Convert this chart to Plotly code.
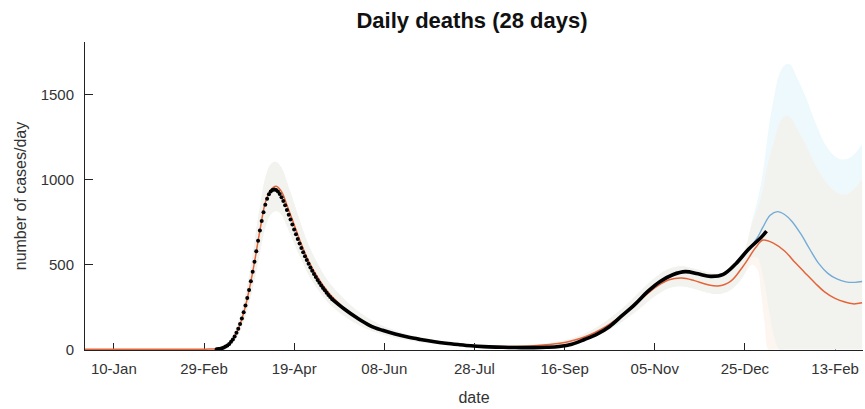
import numpy as np
import pandas as pd
import plotly.graph_objects as go

# ---------------- data ----------------
# observed daily deaths (dots), first wave, daily from 2020-03-07
black_daily_start = "2020-03-07"
black_daily = [1, 2, 4, 7, 11, 16, 23, 32, 44, 58, 76, 97, 122, 150, 182, 218, 258, 302, 350, 402,
               458, 517, 578, 640, 700,
               757, 808, 852, 888, 914, 931, 940, 943, 940, 931, 916, 897, 874, 849, 822, 794, 765,
               736, 707, 679, 651, 624, 598, 573, 549, 526, 504, 483, 463, 444,
               426, 409, 393, 377, 362, 348, 334, 321, 308, 296]

# observed (continued, smooth thick line)
black_dates = ["2020-05-10", "2020-05-17", "2020-05-24", "2020-05-31", "2020-06-07", "2020-06-14",
               "2020-06-21", "2020-06-28", "2020-07-05", "2020-07-12", "2020-07-19", "2020-07-26",
               "2020-08-02", "2020-08-09", "2020-08-16", "2020-08-23", "2020-08-30", "2020-09-06",
               "2020-09-13", "2020-09-20", "2020-09-27", "2020-10-04", "2020-10-11", "2020-10-18",
               "2020-10-25", "2020-11-01", "2020-11-08", "2020-11-15", "2020-11-22", "2020-11-29",
               "2020-12-06", "2020-12-13", "2020-12-20", "2020-12-27", "2021-01-03", "2021-01-06"]
black_vals = [296, 236, 184, 140, 112, 90, 72, 58, 46, 36, 28, 21, 16, 13, 11, 10, 10, 12, 17, 30,
              58, 90, 135, 200, 265, 340, 400, 440, 458, 445, 430, 442, 505, 590, 660, 697]

# model fit / projection (orange)
orange_dates = ["2019-12-25", "2020-01-20", "2020-02-15", "2020-03-01", "2020-03-07", "2020-03-11",
                "2020-03-15", "2020-03-19", "2020-03-23", "2020-03-27", "2020-03-31", "2020-04-03",
                "2020-04-06", "2020-04-09", "2020-04-12", "2020-04-15", "2020-04-19", "2020-04-23",
                "2020-04-27", "2020-05-02", "2020-05-08", "2020-05-15", "2020-05-22", "2020-05-29",
                "2020-06-05", "2020-06-12", "2020-06-19", "2020-06-26", "2020-07-03", "2020-07-10",
                "2020-07-17", "2020-07-24", "2020-07-31", "2020-08-07", "2020-08-14", "2020-08-21",
                "2020-08-28", "2020-09-04", "2020-09-11", "2020-09-18", "2020-09-25", "2020-10-02",
                "2020-10-09", "2020-10-16", "2020-10-23", "2020-10-30", "2020-11-06", "2020-11-13",
                "2020-11-20", "2020-11-27", "2020-12-04", "2020-12-10", "2020-12-17", "2020-12-24",
                "2020-12-31", "2021-01-04", "2021-01-10", "2021-01-16", "2021-01-22", "2021-01-27",
                "2021-02-02", "2021-02-07", "2021-02-13", "2021-02-18", "2021-02-23", "2021-02-28"]
orange_vals = [0, 0, 0, 1, 4, 14, 45, 120, 255, 455, 700, 865, 940, 962, 930, 850, 735, 620, 520,
               425, 335, 260, 200, 155, 120, 95, 75, 60, 47, 37, 30, 24, 20, 17, 16, 17, 20, 25,
               33, 45, 65, 95, 135, 185, 245, 310, 370, 410, 420, 405, 382, 373, 400, 490, 600,
               644, 625, 580, 510, 455, 390, 340, 300, 280, 268, 274]

# alternative projection (blue)
blue_dates = ["2020-12-27", "2021-01-01", "2021-01-04", "2021-01-08", "2021-01-12", "2021-01-16",
              "2021-01-20", "2021-01-25", "2021-01-30", "2021-02-04", "2021-02-09", "2021-02-14",
              "2021-02-19", "2021-02-24", "2021-02-28"]
blue_vals = [590, 660, 720, 790, 812, 795, 755, 680, 590, 505, 448, 415, 398, 395, 400]

# uncertainty band, fitted period (shared by both models)
band_hist_dates = ["2019-12-25", "2020-02-15", "2020-03-01", "2020-03-07", "2020-03-11", "2020-03-15",
                   "2020-03-19", "2020-03-23", "2020-03-27", "2020-03-31", "2020-04-03", "2020-04-06",
                   "2020-04-09", "2020-04-12", "2020-04-15", "2020-04-19", "2020-04-23", "2020-04-27",
                   "2020-05-02", "2020-05-08", "2020-05-15", "2020-05-22", "2020-05-29", "2020-06-05",
                   "2020-06-12", "2020-06-19", "2020-06-26", "2020-07-03", "2020-07-10", "2020-07-17",
                   "2020-07-24", "2020-07-31", "2020-08-07", "2020-08-14", "2020-08-21", "2020-08-28",
                   "2020-09-04", "2020-09-11", "2020-09-18", "2020-09-25", "2020-10-02", "2020-10-09",
                   "2020-10-16", "2020-10-23", "2020-10-30", "2020-11-06", "2020-11-13", "2020-11-20",
                   "2020-11-27", "2020-12-04", "2020-12-10", "2020-12-17", "2020-12-24"]
band_hist_hi = [0, 0, 2, 8, 22, 65, 160, 320, 560, 840, 1010, 1090, 1105, 1070, 985, 860, 730, 615,
                505, 400, 315, 245, 190, 148, 118, 93, 75, 60, 48, 39, 32, 27, 24, 22, 23, 27, 33,
                43, 58, 82, 118, 165, 223, 290, 365, 430, 475, 490, 475, 455, 445, 470, 560]
band_hist_lo = [0, 0, 0, 1, 8, 30, 85, 195, 360, 570, 720, 795, 815, 795, 725, 625, 530, 440, 355,
                275, 210, 160, 122, 95, 74, 58, 46, 36, 28, 22, 17, 14, 11, 10, 11, 13, 18, 24, 33,
                50, 74, 107, 150, 202, 262, 320, 362, 372, 357, 335, 326, 350, 430]

# uncertainty bands, projection period
band_proj_dates = ["2020-12-29", "2021-01-01", "2021-01-03", "2021-01-05", "2021-01-07", "2021-01-10",
                   "2021-01-13", "2021-01-16", "2021-01-19", "2021-01-23", "2021-01-28", "2021-02-02",
                   "2021-02-08", "2021-02-14", "2021-02-19", "2021-02-24", "2021-02-28"]
orange_proj_hi = [740, 830, 900, 1000, 1110, 1220, 1330, 1375, 1370, 1300, 1200, 1090, 985, 925,
                  915, 950, 1004]
orange_proj_lo = [500, 470, 330, 150, 0, 0, 0, 0, 0, 0, 0, 0, 0, 0, 0, 0, 0]
blue_proj_hi = [760, 880, 980, 1120, 1290, 1480, 1620, 1675, 1680, 1600, 1480, 1340, 1200, 1130,
                1120, 1155, 1210]
blue_proj_lo = [540, 540, 480, 380, 250, 80, 0, 0, 0, 0, 0, 0, 0, 0, 0, 0, 0]

x_tick_dates = ["2020-01-10", "2020-02-29", "2020-04-19", "2020-06-08", "2020-07-28",
                "2020-09-16", "2020-11-05", "2020-12-25", "2021-02-13"]
x_tick_text = ["10-Jan", "29-Feb", "19-Apr", "08-Jun", "28-Jul", "16-Sep", "05-Nov", "25-Dec", "13-Feb"]
y_tick_vals = [0, 500, 1000, 1500]

# ---------------- styling ----------------
C_ORANGE = "#e4643a"
C_BLUE = "#74acd6"
C_GREY = "#f2f3ef"
C_LBLUE = "#eef9fd"
C_PEACH = "#fdf5ef"
FONT = "Liberation Sans, Arial, sans-serif"

band_dates = band_hist_dates + band_proj_dates
orange_hi = np.array(band_hist_hi + orange_proj_hi, dtype=float)
orange_lo = np.array(band_hist_lo + orange_proj_lo, dtype=float)
blue_hi = np.array(band_hist_hi + blue_proj_hi, dtype=float)
blue_lo = np.array(band_hist_lo + blue_proj_lo, dtype=float)
both_hi = np.minimum(orange_hi, blue_hi)
both_lo = np.maximum(orange_lo, blue_lo)

fig = go.Figure()


def add_band(lo, hi, color):
    fig.add_trace(go.Scatter(x=band_dates, y=lo, mode="lines", line=dict(width=0, shape="spline"),
                             hoverinfo="skip", showlegend=False))
    fig.add_trace(go.Scatter(x=band_dates, y=hi, mode="lines", line=dict(width=0, shape="spline"),
                             fill="tonexty", fillcolor=color, hoverinfo="skip", showlegend=False))


add_band(blue_lo, blue_hi, C_LBLUE)
add_band(orange_lo, orange_hi, C_PEACH)
add_band(both_lo, both_hi, C_GREY)

fig.add_trace(go.Scatter(x=orange_dates, y=orange_vals, mode="lines",
                         line=dict(color=C_ORANGE, width=1.5, shape="spline"), showlegend=False))
fig.add_trace(go.Scatter(x=blue_dates, y=blue_vals, mode="lines",
                         line=dict(color=C_BLUE, width=1.4, shape="spline"), showlegend=False))

black_daily_dates = pd.date_range(black_daily_start, periods=len(black_daily), freq="D")
fig.add_trace(go.Scatter(x=black_daily_dates, y=black_daily, mode="markers",
                         marker=dict(color="black", size=4), showlegend=False))
fig.add_trace(go.Scatter(x=black_dates, y=black_vals, mode="lines",
                         line=dict(color="black", width=3.6, shape="spline"), showlegend=False))

fig.update_layout(
    width=865, height=409,
    margin=dict(l=85, r=2, t=42, b=59),
    paper_bgcolor="white", plot_bgcolor="white",
    font=dict(family=FONT, size=15, color="#333333"),
    title=dict(text="<b>Daily deaths (28 days)</b>", x=0.5457, xanchor="center", y=0.951,
               yanchor="middle", font=dict(family=FONT, size=22, color="#111111")),
    showlegend=False,
)
fig.update_xaxes(
    type="date", range=["2019-12-25", "2021-02-28 12:00"], automargin=False,
    tickvals=x_tick_dates, ticktext=x_tick_text, layer="below traces",
    ticks="inside", ticklen=7, tickcolor="#222222", tickwidth=1,
    showline=True, linecolor="#222222", linewidth=1, showgrid=False, zeroline=False,
    ticklabelstandoff=5,
    title=dict(text="date", font=dict(size=16, color="#333333"), standoff=15),
)
fig.update_yaxes(
    range=[-4, 1812], tickvals=y_tick_vals, automargin=False,
    ticks="inside", ticklen=8, tickcolor="#222222", tickwidth=1,
    showline=True, linecolor="#222222", linewidth=1, showgrid=False, zeroline=False,
    ticklabelstandoff=7,
    title=dict(text="number of cases/day", font=dict(size=16, color="#333333"), standoff=10),
)

fig.write_html(
    "out.html",
    config={"displayModeBar": False},
    post_script="document.body.style.margin='0';document.body.style.overflow='hidden';",
)
